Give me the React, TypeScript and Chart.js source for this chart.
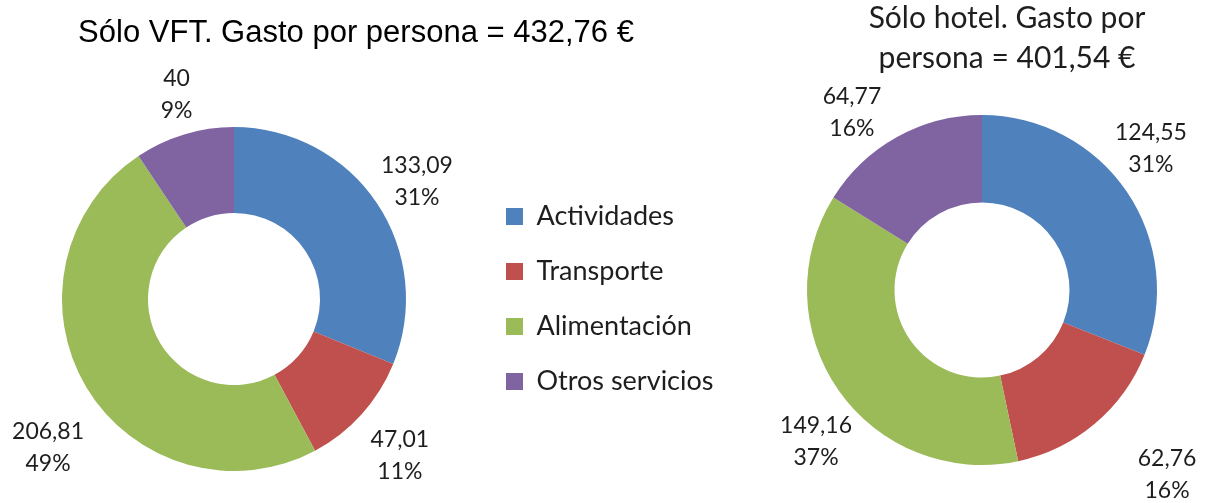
import React, { useEffect, useRef } from 'react';
import { Chart, registerables } from 'chart.js';

Chart.register(...registerables);

// ---- data ----
const CATEGORIES = ['Actividades', 'Transporte', 'Alimentación', 'Otros servicios'];
const VFT_VALUES = [133.09, 47.01, 206.81, 40];
const VFT_PERCENTS = [31, 11, 49, 9];
const HOTEL_VALUES = [124.55, 62.76, 149.16, 64.77];
const HOTEL_PERCENTS = [31, 16, 37, 16];
const VFT_TITLE = 'Sólo VFT. Gasto por persona = 432,76 €';
const HOTEL_TITLE = ['Sólo hotel. Gasto por', 'persona = 401,54 €'];

// ---- styles ----
const COLORS = ['#4F81BD', '#C0504D', '#9BBB59', '#8064A2'];
const SANS = 'Lato, "Noto Sans", sans-serif';
const ARIAL = '"Liberation Sans", Arial, sans-serif';
const TEXT = '#1e1e1e';
const LABEL_FONT_SIZE = 23;
const LABEL_LINE = 32;
const LABEL_GAP = 10;
const VFT_NUDGE = [[2, 2], [9, 13], [1, 39], [0, 0]];
const HOTEL_NUDGE = [[-14, -20], [47, 19], [15, 27], [-26, 12]];

const fmt = (v: number) => String(v).replace('.', ',');

function makeLabelPlugin(values: number[], percents: number[], nudges: number[][]) {
  return {
    id: 'sliceLabels',
    afterDatasetsDraw(chart: any) {
      const meta = chart.getDatasetMeta(0);
      const ctx = chart.ctx as CanvasRenderingContext2D;
      ctx.save();
      ctx.font = `${LABEL_FONT_SIZE}px ${SANS}`;
      ctx.fillStyle = TEXT;
      ctx.textAlign = 'center';
      ctx.textBaseline = 'middle';
      meta.data.forEach((arc: any, i: number) => {
        const { x, y, startAngle, endAngle, outerRadius } = arc.getProps(
          ['x', 'y', 'startAngle', 'endAngle', 'outerRadius'],
          true
        );
        const mid = (startAngle + endAngle) / 2;
        const lines = [fmt(values[i]), `${percents[i]}%`];
        const halfW = Math.max(...lines.map((l) => ctx.measureText(l).width)) / 2;
        const halfH = (lines.length * LABEL_LINE) / 2;
        const c = Math.cos(mid);
        const s = Math.sin(mid);
        const cx = x + c * (outerRadius + LABEL_GAP) + c * halfW + nudges[i][0];
        const cy = y + s * (outerRadius + LABEL_GAP) + s * halfH + nudges[i][1];
        lines.forEach((l, k) => ctx.fillText(l, cx, cy - halfH + LABEL_LINE * (k + 0.5)));
      });
      ctx.restore();
    },
  };
}

function dataset(values: number[]) {
  return {
    data: values,
    backgroundColor: COLORS,
    borderWidth: 0,
    hoverOffset: 0,
  };
}

export default function App() {
  const leftRef = useRef<HTMLCanvasElement | null>(null);
  const rightRef = useRef<HTMLCanvasElement | null>(null);

  useEffect(() => {
    const left = new Chart(leftRef.current as HTMLCanvasElement, {
      type: 'doughnut',
      data: { labels: CATEGORIES, datasets: [dataset(VFT_VALUES)] },
      options: {
        responsive: false,
        animation: false,
        cutout: '50%',
        layout: { padding: { top: 0, left: 0, right: 0, bottom: 32 } },
        plugins: {
          tooltip: { enabled: false },
          title: {
            display: true,
            text: VFT_TITLE,
            color: '#000',
            font: { family: ARIAL, size: 31, weight: 'normal', lineHeight: 1.2 },
            padding: { top: 15, bottom: 74.8 },
          },
          legend: {
            display: true,
            position: 'right',
            fullSize: false,
            maxWidth: 244,
            labels: {
              color: TEXT,
              font: { family: SANS, size: 27 },
              boxWidth: 17,
              boxHeight: 17,
              padding: 28,
            },
          },
        },
      },
      plugins: [makeLabelPlugin(VFT_VALUES, VFT_PERCENTS, VFT_NUDGE)],
    } as any);

    const right = new Chart(rightRef.current as HTMLCanvasElement, {
      type: 'doughnut',
      data: { labels: CATEGORIES, datasets: [dataset(HOTEL_VALUES)] },
      options: {
        responsive: false,
        animation: false,
        cutout: '50%',
        layout: { padding: { top: 0, left: 0, right: 0, bottom: 38 } },
        plugins: {
          tooltip: { enabled: false },
          title: {
            display: true,
            text: HOTEL_TITLE,
            color: TEXT,
            font: { family: SANS, size: 30, weight: 'normal', lineHeight: 40 / 30 },
            padding: { top: 2, bottom: 37 },
          },
          legend: {
            display: true,
            position: 'right',
            labels: { filter: () => false, padding: 40 },
          },
        },
      },
      plugins: [makeLabelPlugin(HOTEL_VALUES, HOTEL_PERCENTS, HOTEL_NUDGE)],
    } as any);

    return () => {
      left.destroy();
      right.destroy();
    };
  }, []);

  return (
    <div
      style={{
        position: 'fixed',
        left: 0,
        top: 0,
        width: 1212,
        height: 503,
        overflow: 'hidden',
        background: '#fff',
      }}
    >
      <canvas
        ref={leftRef}
        width={732}
        height={503}
        style={{ position: 'absolute', left: -10, top: 0, width: 732, height: 503 }}
      />
      <canvas
        ref={rightRef}
        width={494}
        height={507}
        style={{ position: 'absolute', left: 760, top: -4, width: 494, height: 507 }}
      />
    </div>
  );
}
